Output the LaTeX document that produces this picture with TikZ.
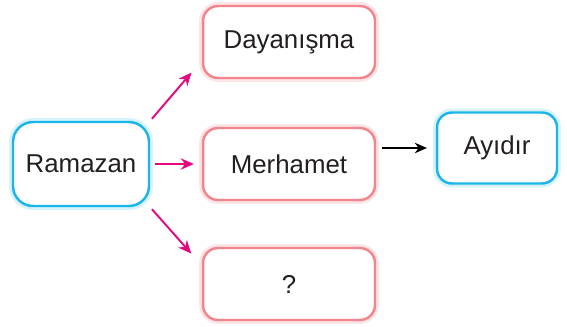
\documentclass[tikz,border=0pt]{standalone}
\usepackage{fontspec}
\setmainfont{Liberation Sans}
\usetikzlibrary{arrows.meta}
\definecolor{kutumavi}{HTML}{1CB5EA}
\definecolor{kutupembe}{HTML}{F4848C}
\definecolor{okpembe}{HTML}{E5097F}
\definecolor{yazi}{HTML}{231F20}
\tikzset{
  mavikutu/.style={rectangle, rounded corners=0.4cm, draw=kutumavi, line width=1.4pt, fill=white,
    preaction={draw=kutumavi!18, line width=4.5pt},
    text=yazi, font=\fontsize{14.7}{17}\selectfont},
  pembekutu/.style={rectangle, rounded corners=0.3cm, draw=kutupembe, line width=1.4pt, fill=white,
    preaction={draw=kutupembe!22, line width=4.5pt},
    text=yazi, font=\fontsize{14.7}{17}\selectfont},
  pembeok/.style={draw=okpembe, line width=1.1pt, -{Stealth[length=7.5pt,width=6.5pt]}},
  siyahok/.style={draw=black, line width=0.9pt, -{Stealth[length=7pt,width=6pt]}}
}
\begin{document}
\begin{tikzpicture}[x=0.02cm, y=-0.02cm]
\useasboundingbox (0,0) rectangle (567,326);

\node[mavikutu, minimum width=2.72cm, minimum height=1.68cm] (1) at (81,164) {Ramazan};

\node[pembekutu, minimum width=3.44cm, minimum height=1.44cm] (2) at (289,42) {Dayanışma};
\node[pembekutu, minimum width=3.44cm, minimum height=1.44cm] (3) at (289,164) {Merhamet};
\node[pembekutu, minimum width=3.44cm, minimum height=1.44cm] (5) at (289,284) {?};

\node[mavikutu, rounded corners=0.3cm, minimum width=2.4cm, minimum height=1.42cm] (4) at (497,148) {Ayıdır};

\draw[pembeok, shorten <=1.5pt, shorten >=9pt] (1.north east) -- (2.192);
\draw[pembeok, shorten <=2.5pt, shorten >=4.5pt] (1) -- (3);
\draw[pembeok, shorten <=1.5pt, shorten >=9pt] (1.south east) -- (5.168);
\draw[siyahok, shorten <=3.5pt, shorten >=5pt] (3.east |- 4.west) -- (4.west);
\end{tikzpicture}
\end{document}
